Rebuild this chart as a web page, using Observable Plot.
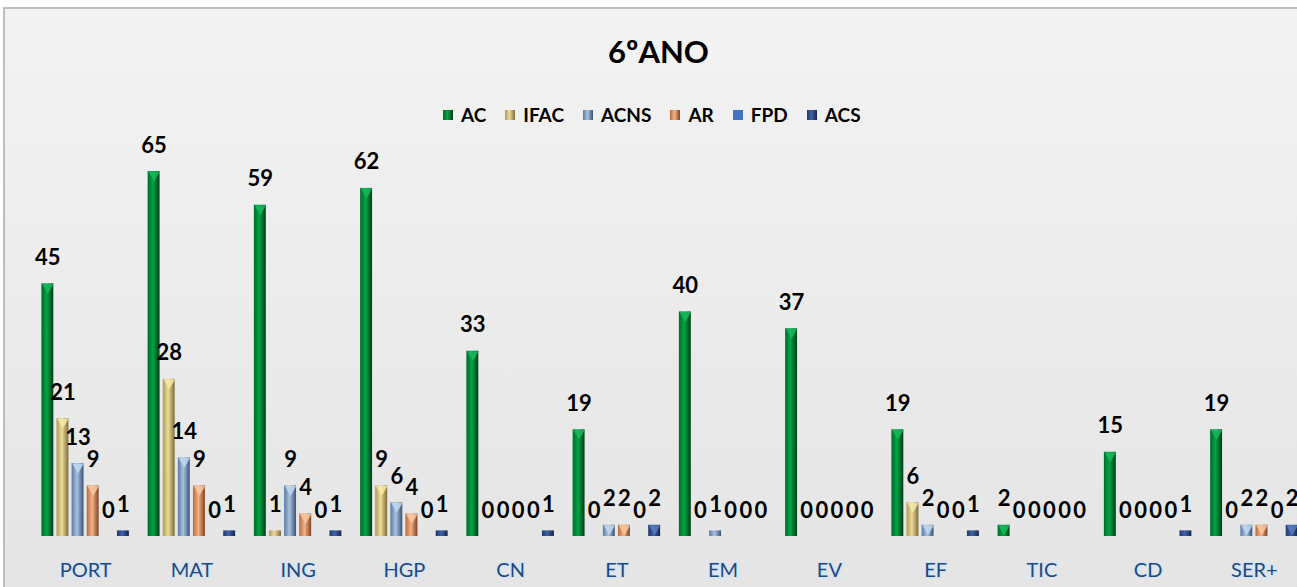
<!DOCTYPE html>
<html>
<head>
<meta charset="utf-8">
<script src="https://cdn.jsdelivr.net/npm/d3@7"></script>
<script src="https://cdn.jsdelivr.net/npm/@observablehq/plot@0.6"></script>
<style>
  html, body { margin: 0; padding: 0; width: 1297px; height: 587px; overflow: hidden; background: #ffffff; }
  #frame { position: absolute; left: 3px; top: 7px; width: 1320px; height: 600px; border-left: 2px solid #bdbdbd; border-top: 2px solid #bdbdbd; background: linear-gradient(#f3f3f3, #e4e4e4); }
  #title { position: absolute; left: 0; width: 1317px; top: 32px; text-align: center; font: bold 31px Lato, "Open Sans", sans-serif; color: #000; }
  #legend { position: absolute; left: 443px; top: 103px; display: flex; align-items: center; font: bold 19px Lato, "Open Sans", sans-serif; color: #000; white-space: nowrap; }
  #legend .item { display: flex; align-items: center; margin-right: 19px; }
  #legend .sw { width: 10px; height: 10px; margin-right: 8px; }
  #chart { position: absolute; left: 0; top: 140px; width: 1310px; }
  #chart svg { background: transparent !important; overflow: visible; max-width: none !important; }
</style>
</head>
<body>
<div id="frame"></div>
<div id="title">6ºANO</div>
<div id="legend"></div>
<div id="chart"></div>
<script>
const categories = ["PORT", "MAT", "ING", "HGP", "CN", "ET", "EM", "EV", "EF", "TIC", "CD", "SER+"];
const series = ["AC", "IFAC", "ACNS", "AR", "FPD", "ACS"];
const AC   = [45, 65, 59, 62, 33, 19, 40, 37, 19, 2, 15, 19];
const IFAC = [21, 28, 1, 9, 0, 0, 0, 0, 6, 0, 0, 0];
const ACNS = [13, 14, 9, 6, 0, 2, 1, 0, 2, 0, 0, 2];
const AR   = [9, 9, 4, 4, 0, 2, 0, 0, 0, 0, 0, 2];
const FPD  = [0, 0, 0, 0, 0, 0, 0, 0, 0, 0, 0, 0];
const ACS  = [1, 1, 1, 1, 1, 2, 0, 0, 1, 0, 1, 2];
const seriesValues = {AC, IFAC, ACNS, AR, FPD, ACS};

const palette = {
  AC:   ["#006b2c", "#00a544", "#003b17", "#19b85a"],
  IFAC: ["#b09a58", "#ecdb98", "#7d6c3a", "#f6e9a8"],
  ACNS: ["#5a7aa0", "#a9c2e0", "#3b5475", "#c3d8f0"],
  AR:   ["#b8693f", "#f4b184", "#7e4425", "#f8c8a2"],
  FPD:  ["#4472c4", "#4472c4", "#4472c4", "#4472c4"],
  ACS:  ["#22396a", "#3f62a8", "#14244a", "#5a7cc0"]
};

const rows = [];
categories.forEach((c, i) => {
  series.forEach(s => rows.push({cat: c, s, v: seriesValues[s][i]}));
});

// legend
const legend = document.getElementById("legend");
series.forEach(s => {
  const p = palette[s];
  const item = document.createElement("div");
  item.className = "item";
  const sw = document.createElement("div");
  sw.className = "sw";
  sw.style.background = `linear-gradient(90deg, ${p[0]}, ${p[1]} 45%, ${p[2]})`;
  const t = document.createElement("span");
  t.textContent = s;
  item.appendChild(sw);
  item.appendChild(t);
  legend.appendChild(item);
});

const plot = Plot.plot({
  width: 1307,
  height: 447,
  marginLeft: 32,
  marginRight: 0,
  marginTop: 3,
  marginBottom: 51,
  style: {background: "transparent", overflow: "visible"},
  fx: {domain: categories, padding: 0, axis: null, round: false},
  x: {domain: series, axis: null, paddingInner: 0.21, paddingOuter: 0.62, round: false},
  y: {domain: [0, 70], axis: null},
  marks: [
    ...series.map(s => Plot.barY(rows.filter(d => d.s === s), {
      fx: "cat", x: "s", y: "v", fill: `url(#grad-${s})`
    })),
    ...series.filter(s => s !== "FPD").map(s => Plot.dot(rows.filter(d => d.s === s && d.v >= 2), {
      fx: "cat", x: "s", y: "v", symbol: "triangle", rotate: 180, r: 4.3, dy: 3.3,
      fill: palette[s][3], fillOpacity: 0.85
    })),
    Plot.text(rows, {
      fx: "cat", x: "s", y: "v", text: d => String(d.v), dy: -26,
      fontSize: 22, fontWeight: "bold", fontFamily: "Lato, 'Open Sans', sans-serif", fill: "#000"
    }),
    Plot.text(categories, {
      fx: d => d, text: d => d, frameAnchor: "bottom", dy: 40,
      fontSize: 20, fontFamily: "Lato, 'Open Sans', sans-serif",
      fill: "#1f497d", stroke: "#d6e4f5", strokeWidth: 3, paintOrder: "stroke"
    })
  ]
});

const svg = d3.select(plot);
const defs = svg.insert("defs", ":first-child");
series.forEach(s => {
  const p = palette[s];
  const g = defs.append("linearGradient").attr("id", `grad-${s}`).attr("x1", "0%").attr("x2", "100%").attr("y1", "0%").attr("y2", "0%");
  g.append("stop").attr("offset", "0%").attr("stop-color", p[0]);
  g.append("stop").attr("offset", "45%").attr("stop-color", p[1]);
  g.append("stop").attr("offset", "100%").attr("stop-color", p[2]);
});

document.getElementById("chart").appendChild(plot);
</script>
</body>
</html>
